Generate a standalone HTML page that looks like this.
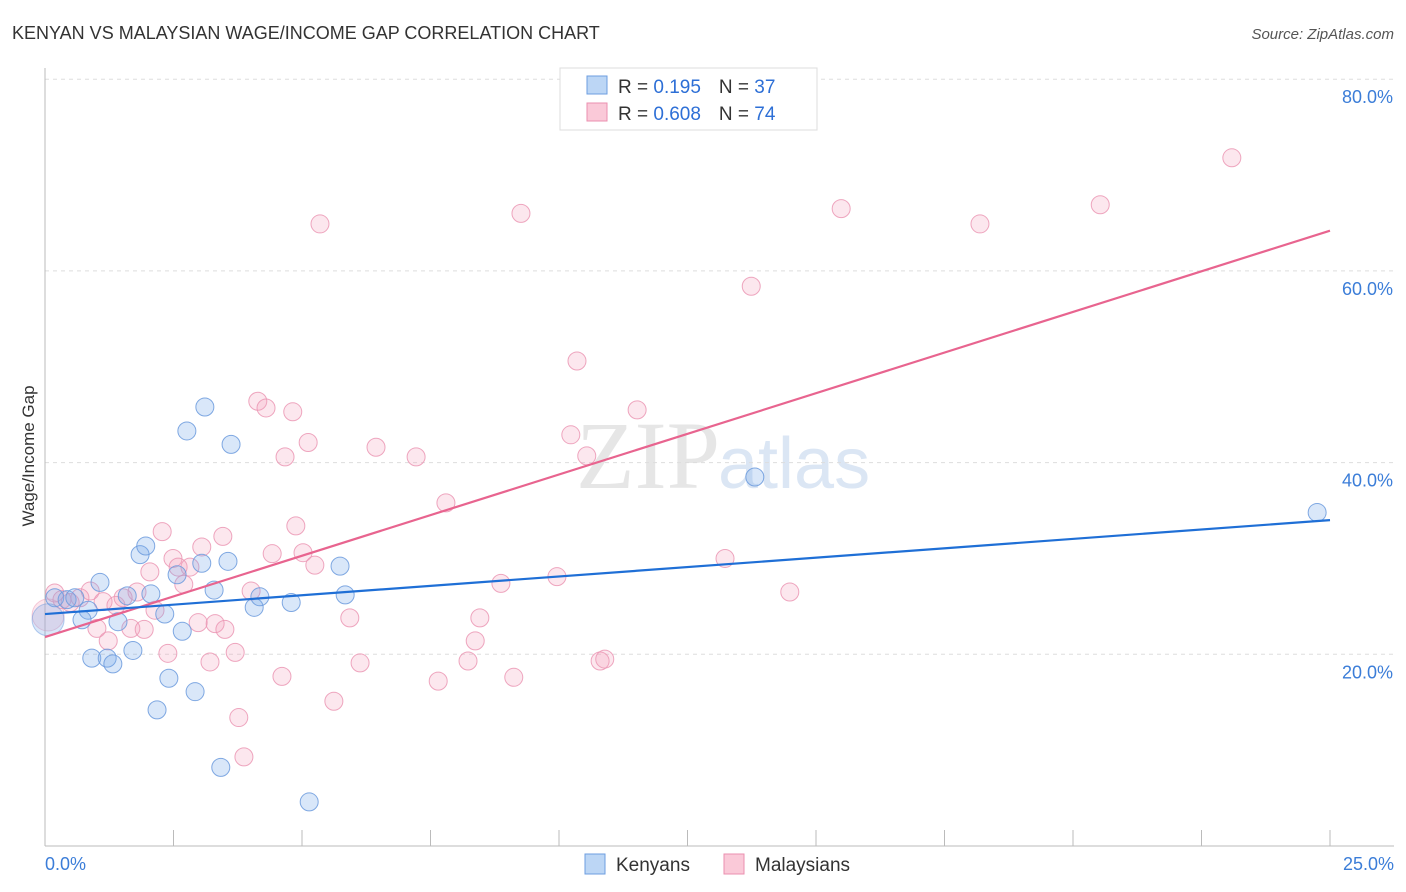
<!DOCTYPE html>
<html><head><meta charset="utf-8"><style>
body{margin:0;background:#fff;font-family:"Liberation Sans",sans-serif;}
svg{display:block}
</style></head><body>
<svg id="chart" width="1406" height="892">
<text x="12" y="39" font-size="18" fill="#333">KENYAN VS MALAYSIAN WAGE/INCOME GAP CORRELATION CHART</text>
<text x="1394" y="39" font-size="15" fill="#555" font-style="italic" text-anchor="end">Source: ZipAtlas.com</text>
<text x="720" y="488" font-size="96" fill="#e6e6e6" text-anchor="end" font-family="Liberation Serif,serif">ZIP</text>
<text x="718" y="488" font-size="72" fill="#dbe6f4">atlas</text>
<text transform="translate(34,456) rotate(-90)" font-size="17" fill="#333" text-anchor="middle">Wage/Income Gap</text>
<g id="grid"></g><g id="axes"></g><g id="pts"></g><g id="lines"></g>
<g>
<rect x="560" y="68" width="257" height="62" fill="#fff" stroke="#ddd"/>
<rect x="587" y="76" width="20" height="18" fill="#bcd6f5" stroke="#6d9ee0"/>
<rect x="587" y="103" width="20" height="18" fill="#fac9d8" stroke="#eb8faf"/>
<text x="618" y="93" font-size="19" fill="#333">R = <tspan fill="#2d6fd6"> 0.195</tspan><tspan dx="18">N = </tspan><tspan fill="#2d6fd6">37</tspan></text>
<text x="618" y="120" font-size="19" fill="#333">R = <tspan fill="#2d6fd6">0.608</tspan><tspan dx="18">N = </tspan><tspan fill="#2d6fd6">74</tspan></text>
</g>
<g>
<rect x="585" y="854" width="20" height="20" fill="#bcd6f5" stroke="#6d9ee0"/>
<text x="616" y="871" font-size="19" fill="#333">Kenyans</text>
<rect x="724" y="854" width="20" height="20" fill="#fac9d8" stroke="#eb8faf"/>
<text x="755" y="871" font-size="19" fill="#333">Malaysians</text>
</g>
</svg>
<script>
const yTicks=[20,40,60,80];
const xTickLabels=["0.0%","25.0%"];
const blueX=[0.19,0.43,0.58,0.84,1.07,0.72,0.91,1.21,1.32,1.42,1.60,1.71,1.85,1.96,2.06,2.18,2.33,2.41,2.57,2.67,2.76,2.92,3.05,3.11,3.29,3.42,3.56,3.62,4.07,4.18,4.79,5.14,5.74,5.84,13.81,24.75,0.06];
const blueY=[25.9,25.7,25.9,24.6,27.5,23.6,19.6,19.6,19.0,23.4,26.1,20.4,30.4,31.3,26.3,14.2,24.2,17.5,28.3,22.4,43.3,16.1,29.5,45.8,26.7,8.2,29.7,41.9,24.9,26.0,25.4,4.6,29.2,26.2,38.5,34.8,23.6];
const pinkX=[0.19,0.33,0.49,0.68,0.88,1.01,1.13,1.23,1.38,1.52,1.67,1.79,1.93,2.04,2.14,2.28,2.39,2.49,2.59,2.70,2.82,2.98,3.05,3.21,3.31,3.46,3.50,3.70,3.77,3.87,4.01,4.14,4.30,4.42,4.61,4.67,4.82,4.88,5.02,5.12,5.25,5.35,5.62,5.93,6.13,6.44,7.22,7.65,7.80,8.23,8.37,8.46,8.87,9.12,9.26,9.96,10.23,10.35,10.54,10.80,10.89,11.52,13.23,13.74,14.49,15.49,18.19,20.53,23.09,0.06];
const pinkY=[26.4,25.7,25.4,25.9,26.6,22.7,25.5,21.4,25.1,25.9,22.7,26.5,22.6,28.6,24.6,32.8,20.1,30.0,29.1,27.3,29.1,23.3,31.2,19.2,23.2,32.3,22.6,20.2,13.4,9.3,26.6,46.4,45.7,30.5,17.7,40.6,45.3,33.4,30.6,42.1,29.3,64.9,15.1,23.8,19.1,41.6,40.6,17.2,35.8,19.3,21.4,23.8,27.4,17.6,66.0,28.1,42.9,50.6,40.7,19.3,19.5,45.5,30.0,58.4,26.5,66.5,64.9,66.9,71.8,24.1];
const blueTrend=[24.2,34.0];
const pinkTrend=[21.8,64.2];
const X0=45,X1=1330,Y0=846,YS=9.585;
function sx(v){return X0+v/25*(X1-X0);}
function sy(v){return Y0-v*YS;}
const NS="http://www.w3.org/2000/svg";
function mk(t,a,p){const e=document.createElementNS(NS,t);for(const k in a)e.setAttribute(k,a[k]);p.appendChild(e);return e;}
const grid=document.getElementById('grid'),axes=document.getElementById('axes'),pts=document.getElementById('pts'),lines=document.getElementById('lines');
yTicks.forEach(t=>{
 const l=mk('line',{x1:X0,x2:1394,y1:sy(t),y2:sy(t),stroke:'#ddd','stroke-dasharray':'4,4'},grid);
 
 
 const tx=mk('text',{x:1393,y:sy(t)+24,'font-size':18,fill:'#3b7dd8','text-anchor':'end'},grid);
 tx.textContent=t.toFixed(1)+'%';
 
 
});
const ax=mk('line',{x1:X0,x2:X0,y1:68,y2:846,stroke:'#bbb'},axes);


const bx=mk('line',{x1:X0,x2:1394,y1:846,y2:846,stroke:'#bbb'},axes);


for(let i=0;i<=10;i++){
 const v=i*2.5;
 const t=mk('line',{x1:sx(v),x2:sx(v),y1:830,y2:846,stroke:'#bbb'},axes);
 
 
}
[[0,'start'],[25,'end']].forEach((d,i)=>{
 const t=mk('text',{x:i?1394:45,y:870,'font-size':18,fill:'#3b7dd8','text-anchor':d[1]},axes);
 t.textContent=xTickLabels[i];
 
 
});
function dots(xs,ys,fill,stroke,name){
 xs.forEach((x,i)=>{
  const big=(i===xs.length-1);
  const c=mk('circle',{cx:sx(x),cy:sy(ys[i]),r:big?16:9,fill:fill,stroke:stroke,'stroke-width':1,'stroke-opacity':big?0.5:0.85},pts);
  
  
 });
}
dots(pinkX,pinkY,'rgba(244,160,188,0.25)','#eb97b4','malaysian-point');
dots(blueX,blueY,'rgba(120,168,232,0.28)','#6b9add','kenyan-point');
const pl=mk('line',{x1:sx(0),y1:sy(pinkTrend[0]),x2:sx(25),y2:sy(pinkTrend[1]),stroke:'#e8648f','stroke-width':2.2},lines);


const bl=mk('line',{x1:sx(0),y1:sy(blueTrend[0]),x2:sx(25),y2:sy(blueTrend[1]),stroke:'#1f6fd6','stroke-width':2.2},lines);


</script>
</body></html>
